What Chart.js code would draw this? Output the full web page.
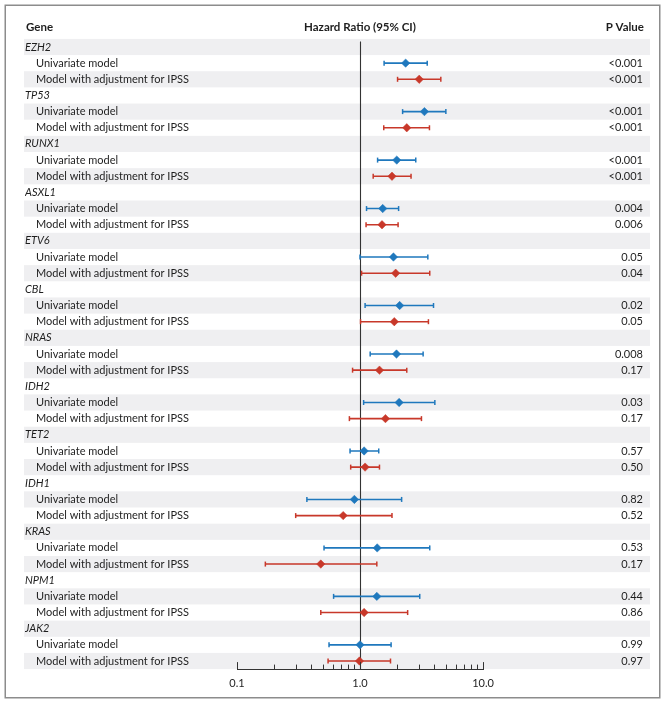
<!DOCTYPE html>
<html><head><meta charset="utf-8">
<script src="https://cdn.jsdelivr.net/npm/chart.js@4/dist/chart.umd.min.js"></script>
<style>html,body{margin:0;padding:0;background:#fff;}canvas{display:block;}</style>
</head><body>
<canvas id="c" width="665" height="703"></canvas>
<script>
// ---- data ----
const genes = ['EZH2','TP53','RUNX1','ASXL1','ETV6','CBL','NRAS','IDH2','TET2','IDH1','KRAS','NPM1','JAK2'];
const modelLabels = ['Univariate model','Model with adjustment for IPSS'];
const uniHR = [2.35,3.34,1.99,1.53,1.87,2.10,1.98,2.08,1.08,0.90,1.38,1.37,1.00];
const uniLo = [1.57,2.22,1.39,1.13,1.00,1.10,1.21,1.07,0.83,0.37,0.51,0.61,0.56];
const uniHi = [3.52,4.99,2.84,2.06,3.56,3.96,3.26,4.06,1.42,2.18,3.69,3.06,1.79];
const adjHR = [3.03,2.40,1.82,1.51,1.95,1.90,1.44,1.61,1.10,0.73,0.48,1.08,0.99];
const adjLo = [2.02,1.56,1.28,1.12,1.03,1.01,0.87,0.82,0.84,0.30,0.17,0.48,0.55];
const adjHi = [4.54,3.67,2.60,2.04,3.69,3.60,2.40,3.16,1.44,1.82,1.37,2.44,1.77];
const uniP = ['<0.001','<0.001','<0.001','0.004','0.05','0.02','0.008','0.03','0.57','0.82','0.53','0.44','0.99'];
const adjP = ['<0.001','<0.001','<0.001','0.006','0.04','0.05','0.17','0.17','0.50','0.52','0.17','0.86','0.97'];
const xTickValues = [0.1,0.2,0.3,0.4,0.5,0.6,0.7,0.8,0.9,1,2,3,4,5,6,7,8,9,10];
const xTickLabels = {'0.1':'0.1','1':'1.0','10':'10.0'};
const headers = ['Gene','Hazard Ratio (95% CI)','P Value'];

// ---- styling ----
const FONT = 'Lato, "Open Sans", sans-serif';
const BLUE = '#1f78bd';
const RED = '#c8382a';
const TEXT = '#1e1e1e';
const STRIPE = '#efeff1';
const INDENT = '\u2002\u2002';

// rows
const rowLabels = [], rowIsGene = [], rowP = [];
genes.forEach((g, i) => {
  rowLabels.push(g); rowIsGene.push(true); rowP.push('');
  rowLabels.push(INDENT + modelLabels[0]); rowIsGene.push(false); rowP.push(uniP[i]);
  rowLabels.push(INDENT + modelLabels[1]); rowIsGene.push(false); rowP.push(adjP[i]);
});
const rowIdx = (g, m) => g * 3 + 1 + m;
const nRows = rowLabels.length;

const pts = (hr, m) => genes.map((g, i) => ({x: hr[i], y: rowIdx(i, m)}));
const ci = (lo, hi, m) => {
  const d = [];
  genes.forEach((g, i) => { d.push({x: lo[i], y: rowIdx(i, m)}, {x: hi[i], y: rowIdx(i, m)}, {x: null, y: null}); });
  return d;
};

const rowTicks = (scale) => { scale.ticks = rowLabels.map((_, i) => ({value: i})); };

const decorPlugin = {
  id: 'decor',
  beforeDraw(chart) {
    const {ctx} = chart;
    const y = chart.scales.y;
    ctx.save();
    ctx.fillStyle = '#fff';
    ctx.fillRect(0, 0, chart.width, chart.height);
    const h = Math.abs(y.getPixelForValue(1) - y.getPixelForValue(0));
    ctx.fillStyle = STRIPE;
    for (let i = 0; i < nRows; i += 2) {
      const py = y.getPixelForValue(i);
      ctx.fillRect(24, py - h / 2, 650 - 24, h);
    }
    ctx.restore();
  },
  beforeDatasetsDraw(chart) {
    const {ctx} = chart;
    const x = chart.scales.x;
    const px = Math.round(x.getPixelForValue(1)) + 0.5;
    ctx.save();
    ctx.strokeStyle = '#333';
    ctx.lineWidth = 1.1;
    ctx.beginPath();
    ctx.moveTo(px, chart.chartArea.top + 2.5);
    ctx.lineTo(px, chart.chartArea.bottom);
    ctx.stroke();
    ctx.restore();
  },
  afterDraw(chart) {
    const {ctx} = chart;
    const x = chart.scales.x;
    ctx.save();
    // x tick marks pointing up
    ctx.strokeStyle = '#333';
    ctx.lineWidth = 1;
    const base = chart.chartArea.bottom;
    x.ticks.forEach(t => {
      const px = Math.round(x.getPixelForValue(t.value)) + 0.5;
      const major = xTickLabels[String(t.value)] !== undefined;
      ctx.beginPath();
      ctx.moveTo(px, base);
      ctx.lineTo(px, base - (major ? 7 : 4.5));
      ctx.stroke();
    });
    // headers
    ctx.fillStyle = TEXT;
    ctx.font = 'bold 11.5px ' + FONT;
    ctx.textBaseline = 'middle';
    ctx.textAlign = 'left';
    ctx.fillText(headers[0], 26, 27);
    ctx.textAlign = 'center';
    ctx.fillText(headers[1], x.getPixelForValue(1), 27);
    ctx.textAlign = 'right';
    ctx.fillText(headers[2], 644, 27);
    // frame
    ctx.strokeStyle = '#8c8c8c';
    ctx.lineWidth = 1.5;
    ctx.strokeRect(5.25, 5.25, 654.5, 692.5);
    ctx.restore();
  }
};

new Chart(document.getElementById('c'), {
  type: 'scatter',
  data: {
    datasets: [
      {label: 'uni', data: pts(uniHR, 0), pointStyle: 'rectRot', pointRadius: 4.2, pointBackgroundColor: BLUE, pointBorderColor: BLUE, pointBorderWidth: 0.5},
      {label: 'adj', data: pts(adjHR, 1), pointStyle: 'rectRot', pointRadius: 4.2, pointBackgroundColor: RED, pointBorderColor: RED, pointBorderWidth: 0.5},
      {label: 'uniCI', data: ci(uniLo, uniHi, 0), showLine: true, spanGaps: false, borderColor: BLUE, borderWidth: 1.6, pointStyle: 'line', pointRotation: 90, pointRadius: 2.5, pointBorderColor: BLUE, pointBorderWidth: 1.5},
      {label: 'adjCI', data: ci(adjLo, adjHi, 1), showLine: true, spanGaps: false, borderColor: RED, borderWidth: 1.6, pointStyle: 'line', pointRotation: 90, pointRadius: 2.5, pointBorderColor: RED, pointBorderWidth: 1.5}
    ]
  },
  options: {
    responsive: false,
    devicePixelRatio: 1,
    animation: false,
    events: [],
    layout: {padding: {left: 25, right: 22, top: 38.9, bottom: 8.9}},
    plugins: {legend: {display: false}, tooltip: {enabled: false}},
    scales: {
      x: {
        type: 'logarithmic', position: 'bottom', min: 0.1, max: 10,
        afterBuildTicks: (s) => { s.ticks = xTickValues.map(v => ({value: v})); },
        afterFit: (s) => { s.height = 25; },
        grid: {display: true, drawOnChartArea: false, drawTicks: false},
        border: {display: true, color: '#333', width: 1},
        ticks: {autoSkip: false, maxRotation: 0, padding: 8, color: TEXT, font: {family: FONT, size: 11},
          callback: (v) => xTickLabels[String(v)] || ''}
      },
      y: {
        type: 'linear', position: 'left', min: -0.5, max: nRows - 0.5, reverse: true,
        afterBuildTicks: rowTicks,
        afterFit: (s) => { s.width = 212; },
        grid: {display: false}, border: {display: false},
        ticks: {autoSkip: false, crossAlign: 'far', padding: 0, color: TEXT,
          font: (c) => ({family: FONT, size: 11, style: (c.tick && rowIsGene[c.tick.value]) ? 'italic' : 'normal'}),
          callback: (v) => rowLabels[v]}
      },
      yP: {
        type: 'linear', position: 'right', min: -0.5, max: nRows - 0.5, reverse: true,
        afterBuildTicks: rowTicks,
        afterFit: (s) => { s.width = 160; },
        grid: {display: false}, border: {display: false},
        ticks: {autoSkip: false, crossAlign: 'far', padding: 0, color: TEXT, font: {family: FONT, size: 11},
          callback: (v) => rowP[v]}
      }
    }
  },
  plugins: [decorPlugin]
});
</script>
</body></html>
